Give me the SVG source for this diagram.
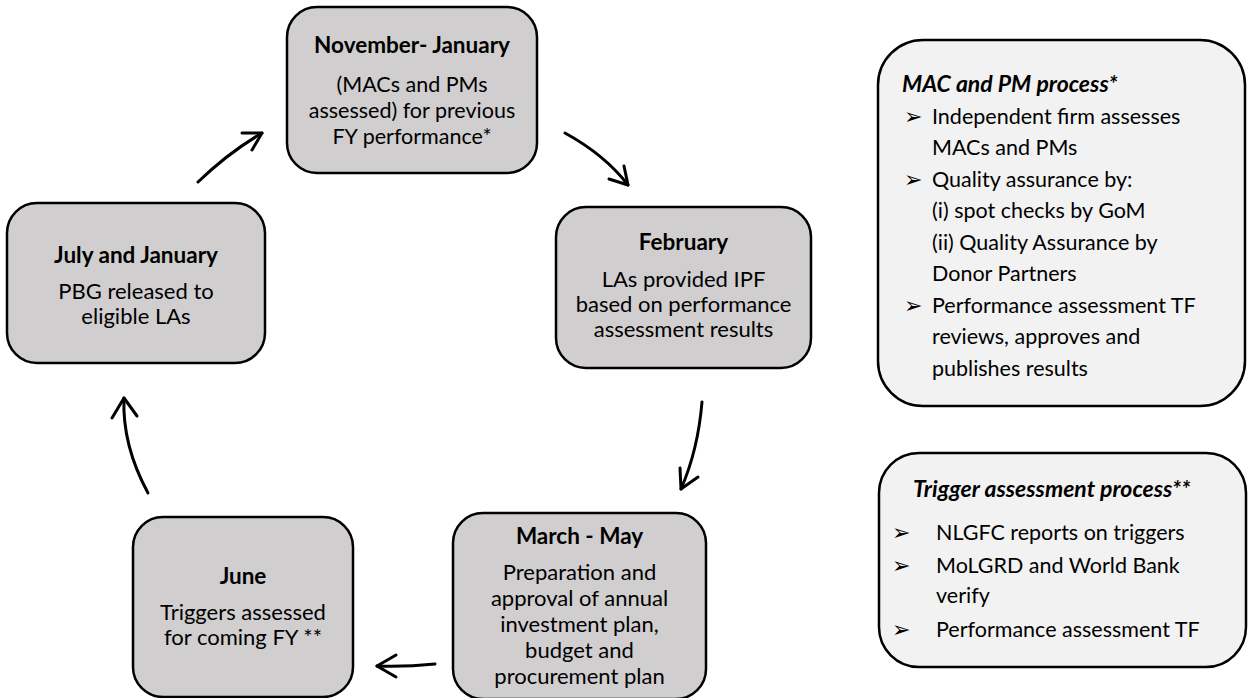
<svg xmlns="http://www.w3.org/2000/svg" width="1249" height="698" viewBox="0 0 1249 698">
<style>
.node{fill:#d0cece;stroke:#000;stroke-width:2.5}
.panel{fill:#f2f2f2;stroke:#000;stroke-width:2.5}
text{font-family:Lato,"Open Sans","Liberation Sans",sans-serif;font-size:21.5px;fill:#000}
.t{font-weight:bold;text-anchor:middle;font-size:22.5px}
.b{text-anchor:middle;font-size:22px}
.b2{text-anchor:middle;font-size:21.5px}
.pt{font-weight:bold;font-style:italic;font-size:23px}
.bul{font-family:"DejaVu Sans",sans-serif;font-size:22px}
.arr{fill:none;stroke:#000;stroke-width:3;stroke-linecap:round;stroke-linejoin:round}
</style>
<rect width="1249" height="698" fill="#fff"/>
<g id="node-nov-jan">
<rect class="node" x="287" y="7" width="250" height="166" rx="30"/>
<text class="t" x="412" y="53">November- January</text>
<text class="b2" x="412" y="92">(MACs and PMs</text>
<text class="b2" x="412" y="118">assessed) for previous</text>
<text class="b2" x="412" y="144">FY performance*</text>
</g>
<g id="node-feb">
<rect class="node" x="556" y="207" width="255" height="161" rx="30"/>
<text class="t" x="683.5" y="250">February</text>
<text class="b" x="683.5" y="287">LAs provided IPF</text>
<text class="b" x="683.5" y="312">based on performance</text>
<text class="b" x="683.5" y="337">assessment results</text>
</g>
<g id="node-jul-jan">
<rect class="node" x="7" y="203" width="258" height="160" rx="30"/>
<text class="t" x="136" y="263">July and January</text>
<text class="b" x="136" y="299">PBG released to</text>
<text class="b" x="136" y="324">eligible LAs</text>
</g>
<g id="node-mar-may">
<rect class="node" x="453" y="513" width="253" height="186" rx="30"/>
<text class="t" x="579.5" y="544">March - May</text>
<text class="b" x="579.5" y="580">Preparation and</text>
<text class="b" x="579.5" y="606">approval of annual</text>
<text class="b" x="579.5" y="632">investment plan,</text>
<text class="b" x="579.5" y="658">budget and</text>
<text class="b" x="579.5" y="684">procurement plan</text>
</g>
<g id="node-june">
<rect class="node" x="133" y="517" width="220" height="180" rx="30"/>
<text class="t" x="243" y="584">June</text>
<text class="b" x="243" y="620">Triggers assessed</text>
<text class="b" x="243" y="645">for coming FY **</text>
</g>
<g id="panel-mac-pm">
<rect class="panel" x="878" y="40" width="367" height="366" rx="45"/>
<text class="pt" x="902" y="92">MAC and PM process*</text>
<text class="bul" x="904" y="124">➢</text>
<text x="932" y="124">Independent firm assesses</text>
<text x="932" y="155">MACs and PMs</text>
<text class="bul" x="904" y="187">➢</text>
<text x="932" y="187">Quality assurance by:</text>
<text x="932" y="218">(i) spot checks by GoM</text>
<text x="932" y="250">(ii) Quality Assurance by</text>
<text x="932" y="281">Donor Partners</text>
<text class="bul" x="904" y="313">➢</text>
<text x="932" y="313">Performance assessment TF</text>
<text x="932" y="344">reviews, approves and</text>
<text x="932" y="376">publishes results</text>
</g>
<g id="panel-trigger">
<rect class="panel" x="879" y="453" width="367" height="214" rx="40"/>
<text class="pt" x="913" y="497">Trigger assessment process**</text>
<text class="bul" x="892" y="540">➢</text>
<text x="936" y="540">NLGFC reports on triggers</text>
<text class="bul" x="892" y="573">➢</text>
<text x="936" y="573">MoLGRD and World Bank</text>
<text x="936" y="603">verify</text>
<text class="bul" x="892" y="637">➢</text>
<text x="936" y="637">Performance assessment TF</text>
</g>
<g id="connectors">
<path class="arr" d="M198,182 Q228,153 262,133"/>
<path class="arr" d="M242,133 L262,133 L252,150"/>
<path class="arr" d="M565,133 Q605,155 628,185"/>
<path class="arr" d="M609,179 L628,185 L624,166"/>
<path class="arr" d="M702,402 Q698,450 681,489"/>
<path class="arr" d="M680,468 L681,489 L698,477"/>
<path class="arr" d="M435,664 Q405,667 377,666"/>
<path class="arr" d="M396,655 L377,666 L396,677"/>
<path class="arr" d="M148,493 Q122,445 124,398"/>
<path class="arr" d="M112,418 L124,398 L137,416"/>
</g>
</svg>
